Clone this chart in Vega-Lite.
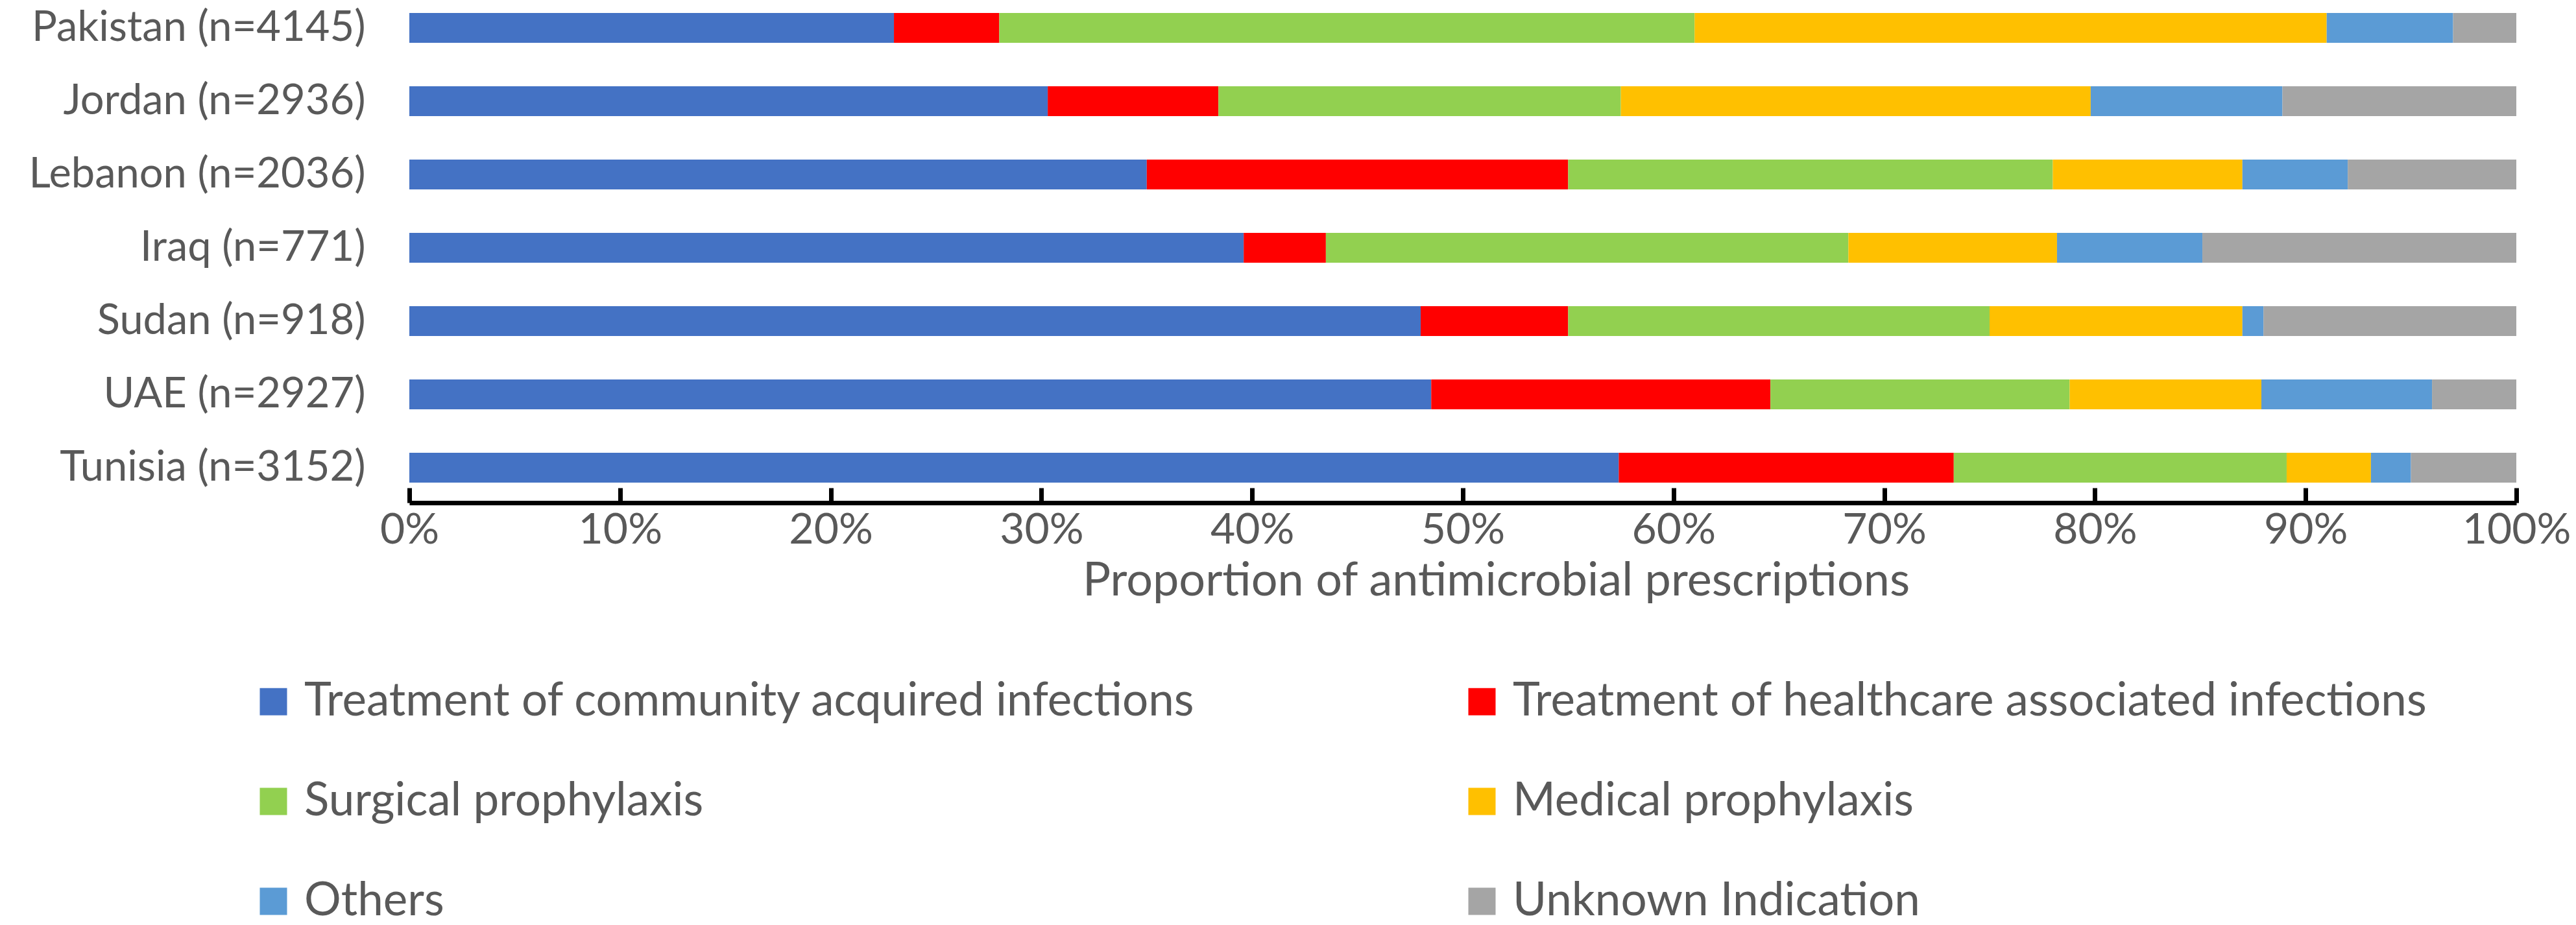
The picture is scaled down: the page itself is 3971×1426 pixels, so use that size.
{
  "$schema": "https://vega.github.io/schema/vega-lite/v6.json",
  "width": 3248,
  "height": 775,
  "autosize": {"type": "none"},
  "padding": {"left": 631, "right": 92, "top": 0, "bottom": 651},
  "background": "white",
  "config": {"view": {"stroke": null}, "font": "Lato"},
  "data": {"values": [
    {"country": "Pakistan (n=4145)", "indication": "Treatment of community acquired infections", "k": 1, "value": 23.0},
    {"country": "Pakistan (n=4145)", "indication": "Treatment of healthcare associated infections", "k": 2, "value": 5.0},
    {"country": "Pakistan (n=4145)", "indication": "Surgical prophylaxis", "k": 3, "value": 33.0},
    {"country": "Pakistan (n=4145)", "indication": "Medical prophylaxis", "k": 4, "value": 30.0},
    {"country": "Pakistan (n=4145)", "indication": "Others", "k": 5, "value": 6.0},
    {"country": "Pakistan (n=4145)", "indication": "Unknown Indication", "k": 6, "value": 3.0},
    {"country": "Jordan (n=2936)", "indication": "Treatment of community acquired infections", "k": 1, "value": 30.3},
    {"country": "Jordan (n=2936)", "indication": "Treatment of healthcare associated infections", "k": 2, "value": 8.1},
    {"country": "Jordan (n=2936)", "indication": "Surgical prophylaxis", "k": 3, "value": 19.1},
    {"country": "Jordan (n=2936)", "indication": "Medical prophylaxis", "k": 4, "value": 22.3},
    {"country": "Jordan (n=2936)", "indication": "Others", "k": 5, "value": 9.1},
    {"country": "Jordan (n=2936)", "indication": "Unknown Indication", "k": 6, "value": 11.1},
    {"country": "Lebanon (n=2036)", "indication": "Treatment of community acquired infections", "k": 1, "value": 35.0},
    {"country": "Lebanon (n=2036)", "indication": "Treatment of healthcare associated infections", "k": 2, "value": 20.0},
    {"country": "Lebanon (n=2036)", "indication": "Surgical prophylaxis", "k": 3, "value": 23.0},
    {"country": "Lebanon (n=2036)", "indication": "Medical prophylaxis", "k": 4, "value": 9.0},
    {"country": "Lebanon (n=2036)", "indication": "Others", "k": 5, "value": 5.0},
    {"country": "Lebanon (n=2036)", "indication": "Unknown Indication", "k": 6, "value": 8.0},
    {"country": "Iraq (n=771)", "indication": "Treatment of community acquired infections", "k": 1, "value": 39.6},
    {"country": "Iraq (n=771)", "indication": "Treatment of healthcare associated infections", "k": 2, "value": 3.9},
    {"country": "Iraq (n=771)", "indication": "Surgical prophylaxis", "k": 3, "value": 24.8},
    {"country": "Iraq (n=771)", "indication": "Medical prophylaxis", "k": 4, "value": 9.9},
    {"country": "Iraq (n=771)", "indication": "Others", "k": 5, "value": 6.9},
    {"country": "Iraq (n=771)", "indication": "Unknown Indication", "k": 6, "value": 14.9},
    {"country": "Sudan (n=918)", "indication": "Treatment of community acquired infections", "k": 1, "value": 48.0},
    {"country": "Sudan (n=918)", "indication": "Treatment of healthcare associated infections", "k": 2, "value": 7.0},
    {"country": "Sudan (n=918)", "indication": "Surgical prophylaxis", "k": 3, "value": 20.0},
    {"country": "Sudan (n=918)", "indication": "Medical prophylaxis", "k": 4, "value": 12.0},
    {"country": "Sudan (n=918)", "indication": "Others", "k": 5, "value": 1.0},
    {"country": "Sudan (n=918)", "indication": "Unknown Indication", "k": 6, "value": 12.0},
    {"country": "UAE (n=2927)", "indication": "Treatment of community acquired infections", "k": 1, "value": 48.5},
    {"country": "UAE (n=2927)", "indication": "Treatment of healthcare associated infections", "k": 2, "value": 16.1},
    {"country": "UAE (n=2927)", "indication": "Surgical prophylaxis", "k": 3, "value": 14.2},
    {"country": "UAE (n=2927)", "indication": "Medical prophylaxis", "k": 4, "value": 9.1},
    {"country": "UAE (n=2927)", "indication": "Others", "k": 5, "value": 8.1},
    {"country": "UAE (n=2927)", "indication": "Unknown Indication", "k": 6, "value": 4.0},
    {"country": "Tunisia (n=3152)", "indication": "Treatment of community acquired infections", "k": 1, "value": 57.4},
    {"country": "Tunisia (n=3152)", "indication": "Treatment of healthcare associated infections", "k": 2, "value": 15.9},
    {"country": "Tunisia (n=3152)", "indication": "Surgical prophylaxis", "k": 3, "value": 15.8},
    {"country": "Tunisia (n=3152)", "indication": "Medical prophylaxis", "k": 4, "value": 4.0},
    {"country": "Tunisia (n=3152)", "indication": "Others", "k": 5, "value": 1.9},
    {"country": "Tunisia (n=3152)", "indication": "Unknown Indication", "k": 6, "value": 5.0}
  ]},
  "mark": {"type": "bar"},
  "encoding": {
    "y": {
      "field": "country", "type": "nominal",
      "sort": ["Pakistan (n=4145)", "Jordan (n=2936)", "Lebanon (n=2036)", "Iraq (n=771)", "Sudan (n=918)", "UAE (n=2927)", "Tunisia (n=3152)"],
      "scale": {"paddingInner": 0.593, "paddingOuter": 0.2256, "align": 0.39},
      "axis": {"title": null, "domain": false, "ticks": false, "grid": false, "labelFont": "Lato", "labelFontSize": 65, "labelColor": "#595959", "labelPadding": 68, "labelLimit": 1000}
    },
    "x": {
      "field": "value", "type": "quantitative", "stack": "normalize",
      "scale": {"domain": [0, 1], "nice": false},
      "axis": {
        "format": ".0%", "values": [0, 0.1, 0.2, 0.3, 0.4, 0.5, 0.6, 0.7, 0.8, 0.9, 1],
        "grid": false, "labelFlush": false,
        "domainColor": "#000000", "domainWidth": 7,
        "tickColor": "#000000", "tickWidth": 7, "tickSize": -23,
        "labelFont": "Lato", "labelFontSize": 66, "labelColor": "#595959", "labelPadding": 33,
        "title": "Proportion of antimicrobial prescriptions",
        "titleFont": "Lato", "titleFontSize": 72, "titleFontWeight": "normal", "titleColor": "#595959", "titlePadding": 10,
        "titleX": 1675, "titleAlign": "center"
      }
    },
    "color": {
      "field": "indication", "type": "nominal",
      "scale": {
        "domain": ["Treatment of community acquired infections", "Treatment of healthcare associated infections", "Surgical prophylaxis", "Medical prophylaxis", "Others", "Unknown Indication"],
        "range": ["#4472C4", "#FF0000", "#92D050", "#FFC000", "#5B9BD5", "#A5A5A5"]
      },
      "legend": {
        "orient": "none", "legendX": -245, "legendY": 1046,
        "direction": "horizontal", "columns": 2, "title": null,
        "symbolType": "square", "symbolSize": 1764, "symbolStrokeWidth": 0, "symbolOpacity": 1,
        "labelFont": "Lato", "labelFontSize": 71, "labelColor": "#595959", "labelOffset": 12, "labelLimit": 3000,
        "rowPadding": 82, "columnPadding": 405
      }
    },
    "order": {"field": "k", "type": "quantitative"}
  }
}
